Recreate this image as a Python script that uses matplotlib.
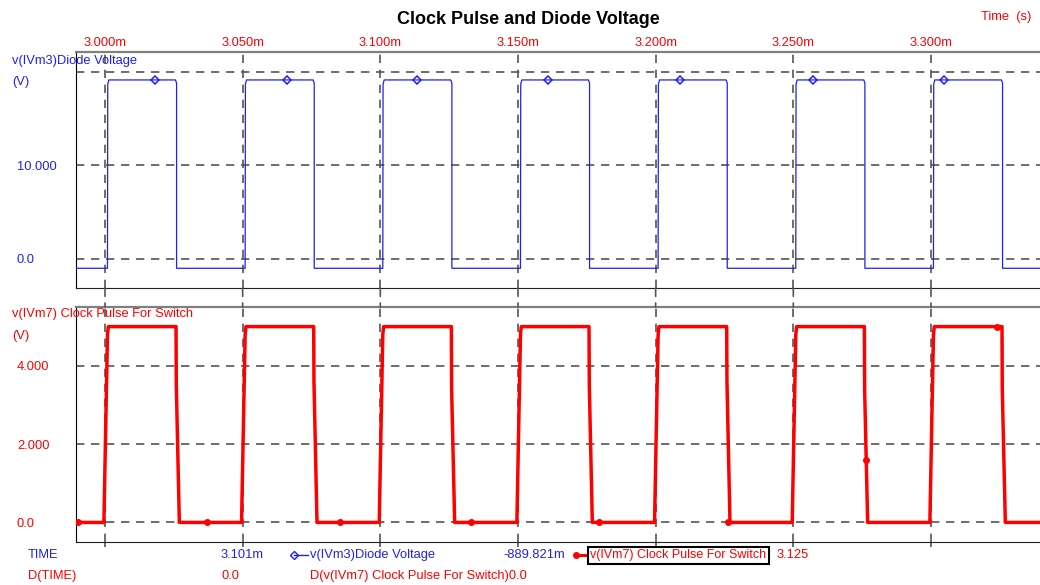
import matplotlib.pyplot as plt
from matplotlib.lines import Line2D
from matplotlib.patches import ConnectionPatch

plt.rcParams['font.family'] = ['Liberation Sans', 'DejaVu Sans']

# time in ms
diode_t = [2.9895,
           3.0009, 3.0010, 3.0014, 3.0256, 3.0260, 3.0260,
           3.0509, 3.0510, 3.0514, 3.0756, 3.0760, 3.0760,
           3.1009, 3.1010, 3.1014, 3.1256, 3.1260, 3.1260,
           3.1509, 3.1510, 3.1514, 3.1756, 3.1760, 3.1760,
           3.2009, 3.2010, 3.2014, 3.2256, 3.2260, 3.2260,
           3.2509, 3.2510, 3.2514, 3.2756, 3.2760, 3.2760,
           3.3009, 3.3010, 3.3014, 3.3256, 3.3260, 3.3260,
           3.3396]
diode_v = [-1.0,
           -1.0, 18.7, 19.15, 19.15, 18.8, -1.0,
           -1.0, 18.7, 19.15, 19.15, 18.8, -1.0,
           -1.0, 18.7, 19.15, 19.15, 18.8, -1.0,
           -1.0, 18.7, 19.15, 19.15, 18.8, -1.0,
           -1.0, 18.7, 19.15, 19.15, 18.8, -1.0,
           -1.0, 18.7, 19.15, 19.15, 18.8, -1.0,
           -1.0, 18.7, 19.15, 19.15, 18.8, -1.0,
           -1.0]

clock_t = [2.9895,
           2.9996, 3.0009, 3.0012, 3.0258, 3.0259, 3.0270,
           3.0496, 3.0509, 3.0512, 3.0758, 3.0759, 3.0770,
           3.0996, 3.1009, 3.1012, 3.1258, 3.1259, 3.1270,
           3.1496, 3.1509, 3.1512, 3.1758, 3.1759, 3.1770,
           3.1996, 3.2009, 3.2012, 3.2258, 3.2259, 3.2270,
           3.2496, 3.2509, 3.2512, 3.2758, 3.2759, 3.2770,
           3.2996, 3.3009, 3.3012, 3.3258, 3.3259, 3.3270,
           3.3396]
clock_v = [0.0,
           0.0, 4.8, 5.0, 5.0, 3.5, 0.0,
           0.0, 4.8, 5.0, 5.0, 3.6, 0.0,
           0.0, 4.8, 5.0, 5.0, 3.4, 0.0,
           0.0, 4.8, 5.0, 5.0, 3.5, 0.0,
           0.0, 4.8, 5.0, 5.0, 3.6, 0.0,
           0.0, 4.8, 5.0, 5.0, 3.4, 0.0,
           0.0, 4.8, 5.0, 5.0, 3.4, 0.0,
           0.0]

diode_mark_t = [3.0182, 3.0661, 3.1133, 3.1609, 3.2089, 3.2572, 3.3048]
diode_mark_v = [19.15, 19.15, 19.15, 19.15, 19.15, 19.15, 19.15]
clock_mark_t = [2.9902, 3.0371, 3.0854, 3.1329, 3.1794, 3.2263, 3.2765, 3.3240]
clock_mark_v = [0.0, 0.0, 0.0, 0.0, 0.0, 0.0, 1.6, 5.0]

xticks = [3.000, 3.050, 3.100, 3.150, 3.200, 3.250, 3.300]
xtick_labels = ["3.000m", "3.050m", "3.100m", "3.150m", "3.200m", "3.250m", "3.300m"]
diode_ticks = [0, 10, 20]
diode_tick_labels = ["0.0", "10.000", ""]
clock_ticks = [0, 2, 4]
clock_tick_labels = ["0.0", "2.000", "4.000"]

BLUE = '#2020f0'
RED = '#ff0000'
GRID = '#555555'
DASH = (0, (5, 4))
FS = 9.3

W, H = 1040, 585
fig = plt.figure(figsize=(W / 100, H / 100), dpi=100)
ax1 = fig.add_axes([76 / W, 1 - 288 / H, 964 / W, 236 / H])
ax2 = fig.add_axes([76 / W, 1 - 542 / H, 964 / W, 235 / H])

xlim = (2.98947, 3.3396)

ax1.plot(diode_t, diode_v, color=BLUE, lw=0.9, zorder=3)
ax1.plot(diode_mark_t, diode_mark_v, ls='none', marker='D', ms=4, mfc='none',
         mec=BLUE, mew=1.1, zorder=4)
ax2.plot(clock_t, clock_v, color=RED, lw=2.5, zorder=3)
ax2.plot(clock_mark_t, clock_mark_v, ls='none', marker='o', ms=4, color=RED, zorder=4)

for ax, ylim, ticks, labels, col in [(ax1, (-3.11, 22.14), diode_ticks, diode_tick_labels, BLUE),
                                     (ax2, (-0.5, 5.5), clock_ticks, clock_tick_labels, RED)]:
    ax.set_xlim(xlim)
    ax.set_ylim(ylim)
    ax.set_xticks(xticks)
    ax.set_yticks(ticks)
    ax.set_yticklabels(labels, color=col, fontsize=FS)
    for lbl in ax.get_yticklabels():
        lbl.set_ha('left')
    ax.tick_params(axis='y', length=0, pad=42.5)
    ax.grid(True, color=GRID, ls=DASH, lw=1.2)
    ax.spines['right'].set_visible(False)
    ax.spines['top'].set_color('#808080')
    ax.spines['top'].set_linewidth(1.6)
    ax.spines['left'].set_color('black')
    ax.spines['bottom'].set_color('#202020')
    ax.set_axisbelow(True)

ax1.xaxis.tick_top()
ax1.set_xticklabels(xtick_labels, color=RED, fontsize=FS)
ax1.tick_params(axis='x', length=0, pad=2)
ax2.set_xticklabels([])
ax2.tick_params(axis='x', direction='out', length=3.5, color=GRID, width=1.2)

# dashed time lines through the gap between panels
for t in xticks:
    con = ConnectionPatch(xyA=(t, -3.11), coordsA=ax1.transData,
                          xyB=(t, 5.5), coordsB=ax2.transData,
                          color=GRID, ls=DASH, lw=1.2)
    fig.add_artist(con)

fig.text(528 / W, 1 - 20 / H, "Clock Pulse and Diode Voltage", ha='center', va='center',
         fontsize=13, fontweight='bold')
fig.text(1006 / W, 1 - 17 / H, "Time  (s)", ha='center', va='center', color=RED, fontsize=FS)

fig.text(12 / W, 1 - 61 / H, "v(IVm3)Diode Voltage", va='center', color=BLUE, fontsize=FS)
fig.text(12 / W, 1 - 82 / H, "(V)", va='center', color=BLUE, fontsize=FS)
fig.text(12 / W, 1 - 314 / H, "v(IVm7) Clock Pulse For Switch", va='center', color=RED, fontsize=FS)
fig.text(12 / W, 1 - 336 / H, "(V)", va='center', color=RED, fontsize=FS)

# cursor readout rows
y1 = 1 - 555 / H
y2 = 1 - 576 / H
fig.text(28 / W, y1, "TIME", va='center', color=BLUE, fontsize=FS)
fig.text(221 / W, y1, "3.101m", va='center', color=BLUE, fontsize=FS)
fig.add_artist(Line2D([294 / W, 308 / W], [y1, y1], transform=fig.transFigure, color=BLUE,
                      lw=1, marker='D', ms=4, mfc='none', mec=BLUE, markevery=[0]))
fig.text(310 / W, y1, "v(IVm3)Diode Voltage", va='center', color=BLUE, fontsize=FS)
fig.text(503 / W, y1, "-889.821m", va='center', color=BLUE, fontsize=FS)
fig.add_artist(Line2D([576 / W, 588 / W], [y1, y1], transform=fig.transFigure, color=RED,
                      lw=2.2, marker='o', ms=4, markevery=[0]))
fig.text(590 / W, y1, "v(IVm7) Clock Pulse For Switch", va='center', color=RED, fontsize=9,
         bbox=dict(boxstyle='square,pad=0.2', fc='white', ec='black', lw=1.5))
fig.text(777 / W, y1, "3.125", va='center', color=RED, fontsize=FS)

fig.text(28 / W, y2, "D(TIME)", va='center', color=RED, fontsize=FS)
fig.text(221 / W, y2, "0.0", va='center', color=RED, fontsize=FS)
fig.text(310 / W, y2, "D(v(IVm7) Clock Pulse For Switch)0.0", va='center', color=RED, fontsize=FS)

fig.savefig('out.png', dpi=100)
